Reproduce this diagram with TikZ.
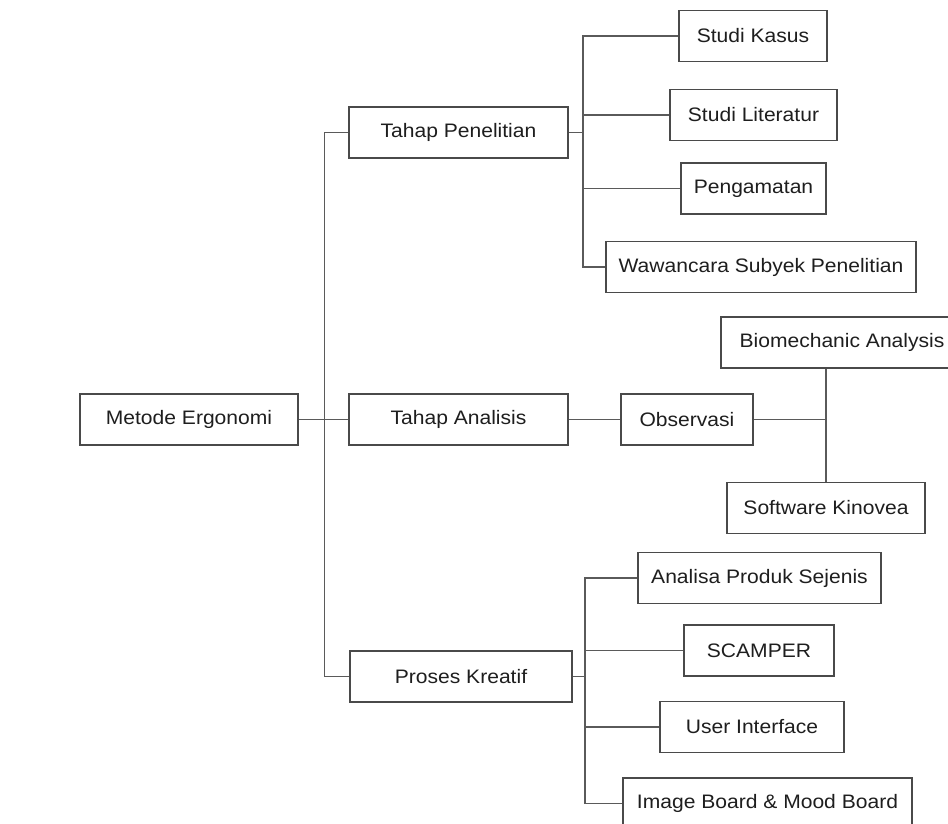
\documentclass[tikz,border=0pt]{standalone}
\usepackage{fontspec}
\setmainfont{Liberation Sans}[FakeStretch=1.08]
\usepackage{tikz}
\usepackage{xcolor}
\usetikzlibrary{positioning,calc}
\definecolor{Ink}{HTML}{1E1E1E}
\definecolor{Edge}{HTML}{4A4A4A}
\definecolor{Wire}{HTML}{5A5A5A}
\tikzset{
  box/.style={
    draw=Edge,line width=1.3pt,fill=white,
    minimum height=51pt,inner sep=0pt,align=center,
    font=\fontsize{19.5}{23}\selectfont,text=Ink
  },
  wire/.style={draw=Wire,line width=1.2pt}
}

\begin{document}
\begin{tikzpicture}[x=1pt,y=-1pt]
  \useasboundingbox (0,0) rectangle (948,823);
  \clip (0,0) rectangle (948,823);
  % root and second level
  \node[box,minimum width=218pt] (metode) at (189,419.5) {Metode Ergonomi};
  \node[box,minimum width=219pt] (penelitian) at (458.5,132.5) {Tahap Penelitian};
  \node[box,minimum width=219pt] (analisis) at (458.5,419.5) {Tahap Analisis};
  \node[box,minimum width=222pt] (kreatif) at (461,676.5) {Proses Kreatif};
  % tahap penelitian
  \node[box,minimum width=148pt] (kasus) at (753,36) {Studi Kasus};
  \node[box,minimum width=167pt] (literatur) at (753.5,115) {Studi Literatur};
  \node[box,minimum width=145pt] (pengamatan) at (753.5,188.5) {Pengamatan};
  \node[box,minimum width=310pt] (wawancara) at (761,267) {Wawancara Subyek Penelitian};
  % tahap analisis
  \node[box,minimum width=132pt] (observasi) at (687,419.5) {Observasi};
  \node[box,minimum width=242pt] (biomech) at (842,342.5) {Biomechanic Analysis};
  \node[box,minimum width=198pt] (kinovea) at (826,508) {Software Kinovea};
  % proses kreatif
  \node[box,minimum width=243pt] (analisa) at (759.5,578) {Analisa Produk Sejenis};
  \node[box,minimum width=150pt] (scamper) at (759,650.5) {SCAMPER};
  \node[box,minimum width=184pt] (userint) at (752,727) {User Interface};
  \node[box,minimum width=289pt] (imgboard) at (767.5,803.5) {Image Board \& Mood Board};
  \coordinate (tp) at (583,132.5);
  \coordinate (pk) at (585,676.5);

  \draw[wire] (metode) -- (analisis);
  \draw[wire] (penelitian.west) -- ++(-24,0) |- (kreatif.west);
  \draw[wire] (penelitian.east) -- (tp);
  \foreach \n in {kasus,literatur,pengamatan,wawancara}
    \draw[wire] (tp) |- (\n.west);
  \draw[wire] (analisis) -- (observasi);
  \draw[wire] (observasi.east) -- (observasi.east -| kinovea.north);
  \draw[wire] (kinovea.north) -- (kinovea.north |- biomech.south);
  \draw[wire] (kreatif.east) -- (pk);
  \foreach \n in {analisa,scamper,userint,imgboard}
    \draw[wire] (pk) |- (\n.west);
\end{tikzpicture}
\end{document}
